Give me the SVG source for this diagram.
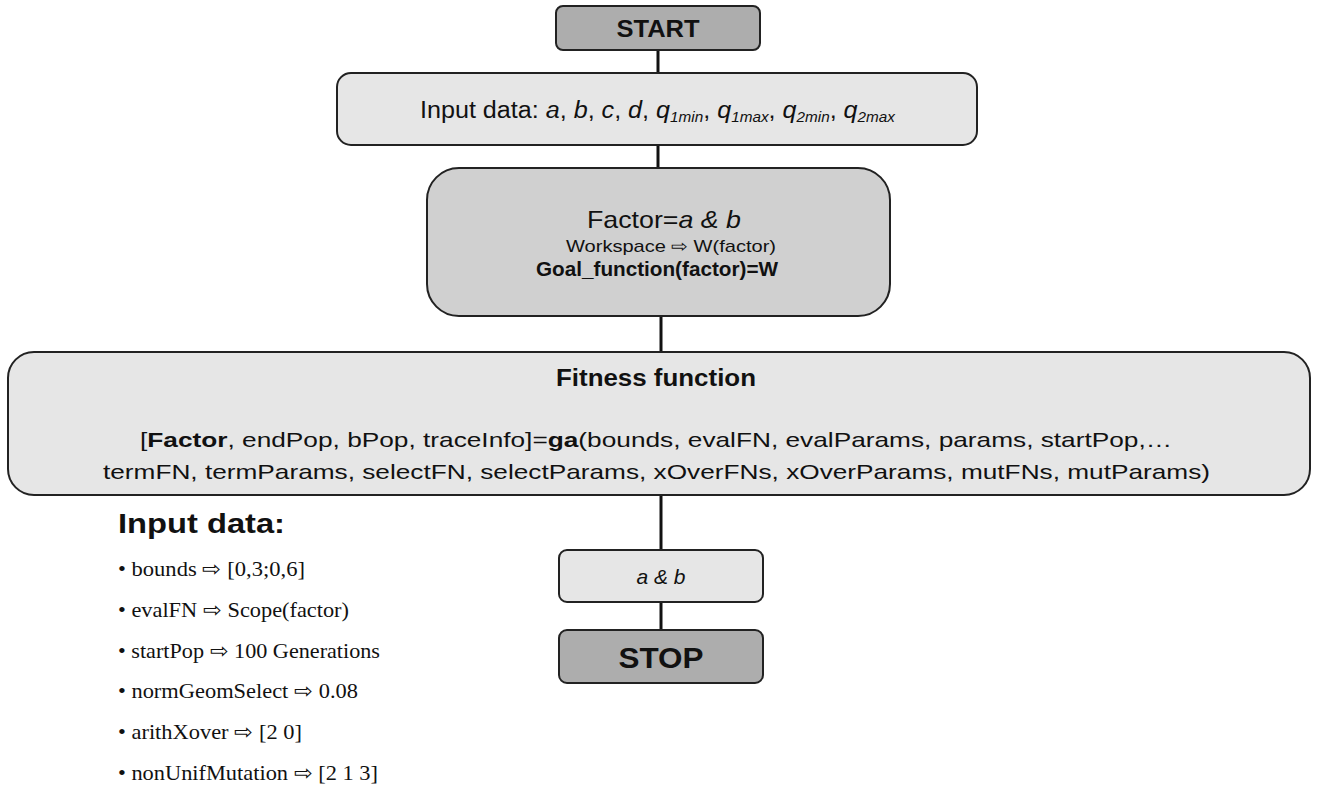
<svg xmlns="http://www.w3.org/2000/svg" width="1319" height="788" viewBox="0 0 1319 788">
<style>
.box{stroke:#222;stroke-width:2}
.dark{fill:#adadad}
.light{fill:#e6e6e6}
.mid{fill:#d0d0d0}
.s{font-family:"Liberation Sans",Arial,sans-serif;fill:#111}
.r{font-family:"Liberation Serif","Times New Roman",serif;fill:#111;font-size:21px}
.c{stroke:#111;stroke-width:3;fill:none}
</style>
<rect width="1319" height="788" fill="#fff"/>
<g id="connectors">
<line class="c" x1="658" y1="50" x2="658" y2="73"/>
<line class="c" x1="658" y1="145" x2="658" y2="168"/>
<line class="c" x1="661" y1="316" x2="661" y2="352"/>
<line class="c" x1="661" y1="495" x2="661" y2="550"/>
<line class="c" x1="661" y1="602" x2="661" y2="630"/>
</g>
<g id="start">
<rect class="box dark" x="556" y="6" width="204" height="44" rx="7"/>
<text class="s" x="658" y="37" text-anchor="middle" font-size="24" font-weight="bold" textLength="83" lengthAdjust="spacingAndGlyphs">START</text>
</g>
<g id="input">
<rect class="box light" x="337" y="73" width="640" height="72" rx="14"/>
<text class="s" x="420" y="118" font-size="23" textLength="475" lengthAdjust="spacingAndGlyphs">Input data: <tspan font-style="italic">a</tspan>, <tspan font-style="italic">b</tspan>, <tspan font-style="italic">c</tspan>, <tspan font-style="italic">d</tspan>, <tspan font-style="italic">q</tspan><tspan font-style="italic" font-size="14" dy="4">1min</tspan><tspan dy="-4">,  </tspan><tspan font-style="italic">q</tspan><tspan font-style="italic" font-size="14" dy="4">1max</tspan><tspan dy="-4">,  </tspan><tspan font-style="italic">q</tspan><tspan font-style="italic" font-size="14" dy="4">2min</tspan><tspan dy="-4">,  </tspan><tspan font-style="italic">q</tspan><tspan font-style="italic" font-size="14" dy="4">2max</tspan></text>
</g>
<g id="factor">
<rect class="box mid" x="427" y="168" width="463" height="148" rx="32"/>
<text class="s" x="587" y="228" font-size="24" textLength="154" lengthAdjust="spacingAndGlyphs">Factor=<tspan font-style="italic">a &amp; b</tspan></text>
<text class="s" x="566" y="252" font-size="17" fill="#333" textLength="210" lengthAdjust="spacingAndGlyphs">Workspace ⇨ W(factor)</text>
<text class="s" x="536" y="276" font-size="20" font-weight="bold" textLength="242" lengthAdjust="spacingAndGlyphs">Goal_function(factor)=W</text>
</g>
<g id="fitness">
<rect class="box light" x="8" y="352" width="1302" height="143" rx="26"/>
<text class="s" x="556" y="386" font-size="23" font-weight="bold" textLength="200" lengthAdjust="spacingAndGlyphs">Fitness function</text>
<text class="s" x="140" y="447" font-size="21" textLength="1032" lengthAdjust="spacingAndGlyphs">[<tspan font-weight="bold">Factor</tspan>, endPop, bPop, traceInfo]=<tspan font-weight="bold">ga</tspan>(bounds, evalFN, evalParams, params, startPop,…</text>
<text class="s" x="103" y="479" font-size="21" textLength="1107" lengthAdjust="spacingAndGlyphs">termFN, termParams,  selectFN, selectParams, xOverFNs, xOverParams, mutFNs, mutParams)</text>
</g>
<g id="inputlist">
<text class="s" x="118" y="533" font-size="27" font-weight="bold" textLength="167" lengthAdjust="spacingAndGlyphs">Input data:</text>
<text class="r" x="118" y="576" textLength="187" lengthAdjust="spacingAndGlyphs">• bounds ⇨ [0,3;0,6]</text>
<text class="r" x="118" y="617" textLength="231" lengthAdjust="spacingAndGlyphs">• evalFN  ⇨ Scope(factor)</text>
<text class="r" x="118" y="658" textLength="262" lengthAdjust="spacingAndGlyphs">• startPop ⇨ 100 Generations</text>
<text class="r" x="118" y="698" textLength="240" lengthAdjust="spacingAndGlyphs">• normGeomSelect  ⇨ 0.08</text>
<text class="r" x="118" y="739" textLength="184" lengthAdjust="spacingAndGlyphs">• arithXover  ⇨ [2 0]</text>
<text class="r" x="118" y="780" textLength="260" lengthAdjust="spacingAndGlyphs">• nonUnifMutation  ⇨ [2 1 3]</text>
</g>
<g id="result">
<rect class="box light" x="559" y="550" width="204" height="52" rx="8"/>
<text class="s" x="661" y="584" text-anchor="middle" font-size="21" font-style="italic">a &amp; b</text>
</g>
<g id="stop">
<rect class="box dark" x="559" y="630" width="204" height="53" rx="8"/>
<text class="s" x="661" y="668" text-anchor="middle" font-size="29" font-weight="bold" textLength="85" lengthAdjust="spacingAndGlyphs">STOP</text>
</g>
</svg>
